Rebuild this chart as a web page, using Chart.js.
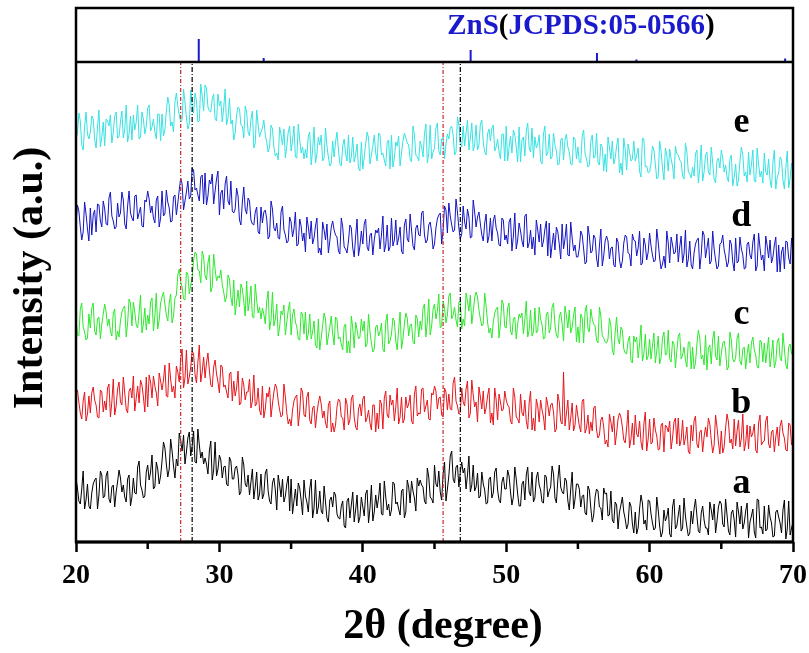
<!DOCTYPE html>
<html>
<head>
<meta charset="utf-8">
<script src="https://cdn.jsdelivr.net/npm/chart.js@4.4.1/dist/chart.umd.min.js"></script>
<style>
  html, body { margin: 0; padding: 0; background: #fff; }
</style>
</head>
<body>
<canvas id="xrdChart" width="809" height="653"></canvas>
<script>
// 2-theta grid of the scans: 20..70 deg, 0.1 deg step
const startAngle = 20;
const stepAngle = 0.1;

// stacked XRD scans (a.u., already offset), one row of 10 points per degree
const scanA = [
  64,54,41,38,53,71,33,42,58,36, 33,49,58,62,64,33,47,71,67,44, 46,66,71,43,39,55,57,35,50,60,
  72,64,50,57,45,40,63,67,36,45, 64,49,48,75,81,57,52,44,46,70, 77,62,70,87,53,55,80,73,58,66,
  81,100,94,78,65,73,103,91,76,64, 83,76,109,101,91,107,78,90,104,110, 86,96,111,80,79,113,97,84,90,78,
  84,78,68,91,101,62,72,100,66,73, 87,82,64,75,76,58,56,85,81,63, 63,74,76,67,47,50,85,77,58,55,
  67,47,60,73,43,55,70,42,48,68, 43,48,69,73,51,41,38,59,64,52, 32,67,57,45,63,40,46,58,66,31,
  63,28,41,53,36,59,54,42,27,62, 46,40,30,53,63,24,34,62,28,35, 51,31,28,56,40,24,20,42,45,35,
  50,47,28,24,23,36,41,16,14,41, 44,24,37,50,20,32,47,19,25,45, 35,26,48,52,19,34,57,21,30,47,
  34,44,59,28,27,61,45,32,38,26, 32,60,58,38,40,33,27,51,53,24, 30,62,55,39,61,51,44,31,64,56,
  62,57,55,41,38,74,65,45,43,39, 77,58,55,71,50,42,68,80,41,53, 66,86,91,63,59,75,77,55,70,80,
  69,74,53,67,86,50,57,77,51,55, 69,44,46,70,58,52,38,39,63,65, 44,49,70,74,52,42,39,60,65,53,
  53,72,66,50,37,45,75,63,48,36, 36,58,61,42,67,75,50,46,70,40, 44,64,70,57,52,40,39,67,65,45,
  51,55,76,68,44,39,62,77,55,50, 48,64,61,41,32,53,70,33,43,58, 58,53,35,46,47,29,27,56,52,34,
  20,27,45,53,51,35,34,22,54,48, 49,26,27,51,22,19,40,37,13,30, 37,45,30,23,13,18,40,36,18,9,
  30,8,14,33,47,39,18,22,12,42, 41,28,19,12,14,45,32,16,5,10, 32,21,25,34,8,5,35,43,13,16,
  27,37,11,14,44,26,15,6,9,31, 18,33,43,26,11,9,29,36,22,14, 14,7,40,32,22,38,9,21,35,41,
  38,18,15,43,27,11,7,29,32,22, 5,40,30,18,36,13,19,31,39,4, 20,26,33,10,4,43,42,14,15,8,
  36,11,13,37,25,19,5,6,30,32, 25,19,9,32,42,3,13,41,7,14, 20];

const scanB = [
  147,152,140,129,123,141,150,121,128,146, 129,149,155,142,137,125,124,152,150,130, 141,132,154,158,125,140,163,127,136,153,
  160,140,137,165,149,133,129,151,154,144, 166,131,144,156,139,162,157,145,130,165, 135,167,160,144,166,156,149,136,169,161,
  152,162,177,146,145,179,163,150,156,144, 176,170,160,183,193,154,164,192,158,165, 175,191,188,168,159,180,197,160,170,185,
  164,179,189,172,157,155,175,182,168,160, 149,177,175,155,157,150,144,168,170,141, 161,146,154,171,137,139,164,157,142,150,
  150,163,134,141,167,136,138,154,132,127, 156,124,133,149,145,155,125,138,150,158, 154,141,132,125,127,158,145,129,118,123,
  116,132,141,145,147,116,130,154,150,127, 125,145,150,122,118,134,136,114,129,139, 146,138,124,131,119,114,137,141,110,119,
  110,117,135,143,141,125,124,112,144,138, 117,122,143,147,125,115,112,133,138,126, 143,146,120,124,132,119,112,137,137,110,
  129,113,142,138,113,144,151,127,124,147, 137,142,121,135,154,118,125,145,119,123, 145,134,138,147,121,118,148,156,126,129,
  128,153,154,130,136,142,123,122,149,147, 156,151,133,144,145,127,125,154,150,132, 148,133,132,159,165,141,136,128,130,154,
  140,136,153,161,124,129,162,147,135,140, 120,155,145,133,151,128,134,146,154,119, 129,117,154,142,122,148,140,131,133,151,
  142,137,135,121,118,154,145,125,123,119, 148,129,126,142,121,113,139,151,112,124, 111,143,136,120,142,132,125,112,145,137,
  126,137,139,130,110,113,148,140,121,118, 170,116,129,142,112,124,139,111,117,137, 126,116,110,141,143,109,114,127,108,120,
  111,134,136,112,104,107,122,125,115,98, 102,95,128,120,110,126,97,109,123,129, 125,115,102,99,114,132,94,103,119,97,
  127,108,105,121,100,92,118,130,91,103, 123,98,100,124,112,106,92,93,117,119, 90,117,115,110,121,93,104,120,124,98,
  124,96,102,122,97,104,115,91,88,117, 101,121,126,98,94,110,112,90,105,115, 105,124,118,102,89,97,127,115,100,88,
  111,89,95,114,128,120,99,103,93,123, 96,111,122,95,104,128,91,99,117,93, 116,105,109,118,92,89,119,127,97,100,
  101,121,126,98,94,110,112,90,105,115, 96,116,122,109,104,92,91,119,117,97, 106];

const scanC = [
  222,207,206,233,239,215,210,202,204,228, 214,234,239,211,207,223,225,203,218,228, 238,230,216,223,211,206,229,233,202,211,
  205,221,230,234,236,205,219,243,239,216, 240,230,217,214,229,247,209,218,234,212, 227,218,240,244,211,226,249,213,222,239,
  245,250,238,227,221,239,248,219,226,244, 247,267,273,260,255,243,242,270,268,248, 257,264,282,290,288,272,271,259,291,285,
  266,262,279,287,250,255,288,273,261,266, 264,272,257,250,240,245,267,263,245,236, 262,227,240,252,235,258,253,241,226,261,
  231,241,256,225,224,258,242,229,235,223, 234,228,218,241,251,212,222,250,216,223, 238,206,215,231,227,237,207,220,232,240,
  207,227,233,220,215,203,202,230,228,208, 230,202,208,228,203,210,221,197,194,223, 192,204,217,229,223,197,206,215,226,208,
  197,225,223,203,205,198,192,216,218,189, 201,189,226,214,194,220,212,203,205,223, 211,221,195,198,228,210,199,190,193,215,
  217,206,210,219,193,190,220,228,198,201, 208,224,221,201,192,213,230,193,203,218, 229,224,206,217,218,200,198,227,223,205,
  221,212,234,238,205,220,243,207,216,233, 238,223,231,248,214,216,241,234,219,227, 246,249,223,227,235,222,215,240,240,213,
  223,216,249,241,231,247,218,230,244,250, 245,232,223,216,218,249,236,220,209,214, 204,220,229,233,235,204,218,242,238,215,
  214,234,239,211,207,223,225,203,218,228, 224,229,208,222,241,205,212,232,206,210, 234,209,211,235,223,217,203,204,228,230,
  209,214,235,239,217,207,204,225,230,218, 201,236,226,214,232,209,215,227,235,200, 215,199,228,224,199,230,237,213,210,233,
  223,218,216,202,199,235,226,206,204,200, 199,203,224,216,192,187,210,225,203,198, 215,212,193,189,188,201,206,181,179,206,
  200,205,184,198,217,181,188,208,182,186, 203,183,196,209,179,191,206,178,184,204, 210,187,188,212,183,180,201,198,174,191,
  206,209,183,187,195,182,175,200,200,173, 195,173,179,198,212,204,183,187,177,207, 172,194,197,178,203,211,186,182,206,176,
  188,199,201,192,172,175,210,202,183,180, 184,204,209,181,177,193,195,173,188,198, 179,199,205,192,187,175,174,202,200,180,
  199,179,192,205,175,187,202,174,180,200, 204,184,181,209,193,177,173,195,198,188, 191];

const scanD = [
  318,337,331,315,302,310,340,328,313,301, 334,307,327,332,310,338,337,321,315,341, 333,318,317,344,350,326,321,313,315,339,
  325,329,350,342,318,313,336,351,329,324, 321,346,347,323,329,335,316,315,342,340, 351,343,329,336,324,319,342,346,315,324,
  351,326,328,352,340,334,320,321,345,347, 327,339,352,364,358,332,341,350,361,343, 346,374,372,352,354,347,341,365,367,338,
  369,337,346,362,358,368,338,351,363,371, 327,349,352,333,358,366,341,337,361,331, 329,333,354,346,322,317,340,355,333,328,
  344,341,322,318,317,330,335,310,308,335, 319,330,332,323,303,306,341,333,314,311, 319,304,303,330,336,312,307,299,301,325,
  320,305,313,330,296,298,323,316,301,309, 290,325,315,303,321,298,304,316,324,289, 294,287,320,312,302,318,289,301,315,321,
  312,307,305,291,288,324,315,295,293,289, 301,317,314,294,285,306,323,286,296,311, 298,318,323,295,291,307,309,287,302,312,
  309,314,293,307,326,290,297,317,291,295, 324,296,302,322,297,304,315,291,288,317, 323,303,300,328,312,296,292,314,317,307,
  306,329,331,307,299,302,317,320,310,293, 298,314,323,327,329,298,312,336,332,309, 339,326,317,310,312,343,330,314,303,308,
  336,320,313,333,325,304,305,342,330,315, 325,330,318,307,301,319,328,299,306,324, 301,321,327,314,309,297,296,324,322,302,
  307,298,320,324,291,306,329,293,302,319, 311,301,295,326,328,294,299,312,293,305, 287,322,312,300,318,295,301,313,321,286,
  319,284,297,309,292,315,310,298,283,318, 293,303,318,287,286,320,304,291,297,285, 285,294,311,307,293,278,280,316,306,289,
  291,307,304,284,275,296,313,276,286,301, 306,301,283,294,295,277,275,304,300,282, 274,281,299,307,305,289,288,276,308,302,
  301,286,294,311,277,279,304,297,282,290, 309,296,287,280,282,313,300,284,273,278, 286,274,311,299,279,305,297,288,290,308,
  280,295,306,279,288,312,275,283,301,277, 273,289,298,302,304,273,287,311,307,284, 294,304,278,281,311,293,282,273,276,298,
  299,307,292,285,275,280,302,298,280,271, 304,279,281,305,293,287,273,274,298,300, 287,283,300,308,271,276,309,294,282,287,
  271,306,296,284,302,279,285,297,305,270, 297,270,290,295,273,301,300,284,278,304, 287];

const scanE = [
  404,408,429,421,397,392,415,430,408,403, 410,426,423,403,394,415,432,395,405,420, 396,423,421,416,427,399,410,426,430,404,
  405,420,431,404,413,437,400,408,426,402, 427,412,420,437,403,405,430,423,408,416, 434,437,411,415,423,410,403,428,428,401,
  428,406,412,431,445,437,416,420,410,440, 449,436,427,420,422,453,440,424,413,418, 452,436,429,449,441,420,421,458,446,431,
  457,454,435,431,430,443,448,423,421,448, 436,441,420,434,453,417,424,444,418,422, 402,409,427,435,433,417,416,404,436,430,
  410,406,423,431,394,399,432,417,405,410, 414,422,407,400,390,395,417,413,395,386, 389,382,415,407,397,413,384,396,410,416,
  391,401,416,385,384,418,402,389,395,383, 393,384,406,410,377,392,415,379,388,405, 397,407,381,384,414,396,385,376,379,401,
  385,400,410,393,378,376,396,403,389,381, 407,379,385,405,380,387,398,374,371,400, 373,385,398,410,404,378,387,396,407,389,
  381,409,407,387,389,382,376,400,402,373, 407,375,384,400,396,406,376,389,401,409, 404,399,397,383,380,416,407,387,385,381,
  401,395,385,408,418,379,389,417,383,390, 394,414,419,391,387,403,405,383,398,408, 403,414,416,407,387,390,425,417,398,395,
  416,396,409,422,392,404,419,391,397,417, 392,397,418,422,400,390,387,408,413,401, 414,417,391,395,403,390,383,408,408,381,
  416,381,394,406,389,412,407,395,380,415, 380,402,405,386,411,419,394,390,414,384, 405,394,398,407,381,378,408,416,386,389,
  408,383,385,409,397,391,377,378,402,404, 382,402,408,395,390,378,377,405,403,383, 395,380,379,406,412,388,383,375,377,401,
  407,384,385,409,380,377,398,395,371,388, 370,405,395,383,401,378,384,396,404,369, 379,367,404,392,372,398,390,381,383,401,
  381,387,394,371,365,404,403,375,376,369, 370,379,396,392,378,363,365,401,391,374, 362,394,387,371,393,383,376,363,396,388,
  387,382,380,366,363,399,390,370,368,364, 375,366,388,392,359,374,397,361,370,387, 390,370,367,395,379,363,359,381,384,374,
  392,384,370,377,365,360,383,387,356,365, 378,356,362,381,395,387,366,370,360,390, 367,377,392,361,360,394,378,365,371,359,
  389,370,367,383,362,354,380,392,353,365, 369,385,382,362,353,374,391,354,364,379, 370];

const scanNames = ['a', 'b', 'c', 'd', 'e'];
const scanColors = ['#000000', '#e5161c', '#2ee82e', '#1414c4', '#36e2e2'];

// ZnS standard pattern, JCPDS 05-0566 (2θ, relative intensity)
const stdPeaks = [28.56, 33.09, 47.52, 56.33, 59.08, 69.45];
const stdIntensity = [100, 17, 52, 39, 11, 15];

// guide lines at the observed reflections
const guideLines = [27.3, 28.1, 45.6, 46.8];
const guideColors = ['#c8282a', '#000000', '#c8282a', '#000000'];

const xTicks = [20, 30, 40, 50, 60, 70];
const xMinorTicks = [25, 35, 45, 55, 65];

const serif = "'Liberation Serif', 'Times New Roman', serif";
const twoTheta = scanA.map((_, i) => startAngle + i * stepAngle);

const scanSets = [scanA, scanB, scanC, scanD, scanE].map((scan, k) => ({
  label: scanNames[k],
  data: scan.map((v, i) => ({x: twoTheta[i], y: v})),
  borderColor: scanColors[k],
  borderWidth: 1,
  pointRadius: 0,
  tension: 0,
  yAxisID: 'y',
  order: 2
}));

const guideSets = guideLines.map((g, k) => ({
  label: 'guide ' + g,
  data: [{x: g, y: 0}, {x: g, y: 480}],
  borderColor: guideColors[k],
  borderWidth: 1.2,
  borderDash: k % 2 === 0 ? [4, 2, 1, 2] : [5, 2, 1, 2],
  pointRadius: 0,
  yAxisID: 'y',
  order: 1
}));

const stickSet = {
  label: 'ZnS',
  data: stdPeaks.flatMap((p, i) => [{x: p, y: 0}, {x: p, y: stdIntensity[i]}, {x: p, y: null}]),
  borderColor: '#1a1acc',
  borderWidth: 2,
  pointRadius: 0,
  spanGaps: false,
  yAxisID: 'y2',
  order: 1
};

// labels a-e next to each scan (2θ, a.u.)
const tagX = 66.4;
const tagY = [58, 138, 227, 325, 419];

const framePlugin = {
  id: 'frame',
  afterDraw(chart) {
    const {ctx, chartArea: area, scales} = chart;
    const x = scales.x, y = scales.y, y2 = scales.y2;
    ctx.save();
    ctx.strokeStyle = '#000';
    // outer box and panel divider
    ctx.lineWidth = 2.5;
    ctx.strokeRect(area.left, area.top, area.right - area.left, area.bottom - area.top);
    ctx.beginPath();
    ctx.moveTo(area.left, y2.bottom);
    ctx.lineTo(area.right, y2.bottom);
    ctx.stroke();
    ctx.lineWidth = 3;
    ctx.beginPath();
    ctx.moveTo(area.left - 1, area.bottom);
    ctx.lineTo(area.right + 1, area.bottom);
    ctx.stroke();
    // minor ticks
    ctx.lineWidth = 2.5;
    xMinorTicks.forEach(t => {
      const px = x.getPixelForValue(t);
      ctx.beginPath();
      ctx.moveTo(px, area.bottom);
      ctx.lineTo(px, area.bottom + 7);
      ctx.stroke();
    });

    // scan tags
    ctx.fillStyle = '#000';
    ctx.font = 'bold 36px ' + serif;
    ctx.textAlign = 'center';
    ctx.textBaseline = 'middle';
    tagY.forEach((v, i) => {
      ctx.fillText(scanNames[i], x.getPixelForValue(tagX), y.getPixelForValue(v));
    });

    // standard pattern title, blue text with black brackets
    ctx.font = 'bold 29px ' + serif;
    ctx.textAlign = 'left';
    const parts = [['ZnS', '#1a1acc'], ['(', '#000'], ['JCPDS:05-0566', '#1a1acc'], [')', '#000']];
    const total = parts.reduce((s, p) => s + ctx.measureText(p[0]).width, 0);
    let tx = 581 - total / 2;
    parts.forEach(([t, c]) => {
      ctx.fillStyle = c;
      ctx.fillText(t, tx, 27);
      tx += ctx.measureText(t).width;
    });

    // axis titles
    ctx.fillStyle = '#000';
    ctx.font = 'bold 42px ' + serif;
    ctx.textAlign = 'center';
    ctx.textBaseline = 'alphabetic';
    ctx.fillText('2θ (degree)', 443, 638);
    ctx.translate(42, 278);
    ctx.rotate(-Math.PI / 2);
    ctx.fillText('Intensity (a.u.)', 0, 0);
    ctx.restore();
  }
};

new Chart(document.getElementById('xrdChart').getContext('2d'), {
  type: 'line',
  data: {datasets: [...guideSets, stickSet, ...scanSets]},
  options: {
    responsive: false,
    devicePixelRatio: 1,
    animation: false,
    normalized: true,
    layout: {padding: {left: 76, right: 16, top: 8, bottom: 0}},
    plugins: {legend: {display: false}, tooltip: {enabled: false}},
    scales: {
      x: {
        type: 'linear',
        min: 20,
        max: 70,
        afterBuildTicks: s => { s.ticks = xTicks.map(v => ({value: v})); },
        afterFit: s => { s.height = 111; s.paddingLeft = 0; s.paddingRight = 0; },
        border: {display: false},
        grid: {drawOnChartArea: false, drawTicks: true, tickLength: 10, tickWidth: 2.5, tickColor: '#000'},
        ticks: {color: '#000', padding: 7, maxRotation: 0, font: {family: serif, weight: 'bold', size: 28}}
      },
      y: {
        display: false,
        min: 0,
        max: 480,
        stack: 'xrd',
        stackWeight: 480
      },
      y2: {
        display: false,
        min: 0,
        max: 235,
        stack: 'xrd',
        stackWeight: 54
      }
    }
  },
  plugins: [framePlugin]
});
</script>
</body>
</html>
